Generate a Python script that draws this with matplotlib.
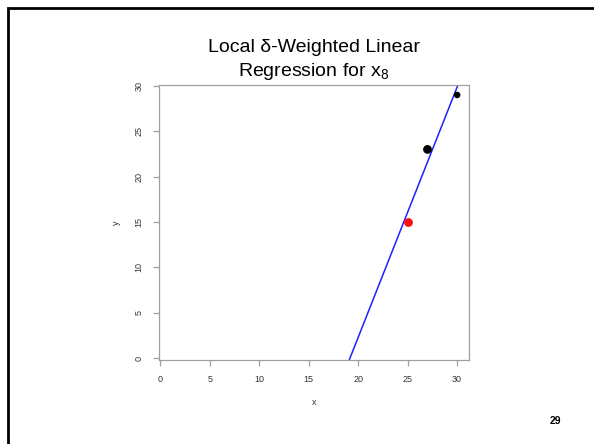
import matplotlib.pyplot as plt
import numpy as np
from matplotlib.lines import Line2D

plt.rcParams['font.family'] = ['Liberation Sans', 'DejaVu Sans']
plt.rcParams['mathtext.fontset'] = 'custom'
plt.rcParams['mathtext.rm'] = 'Liberation Sans'
plt.rcParams['mathtext.it'] = 'Liberation Sans'

# neighbour points (black) and query point (red)
nb_x = [27, 30]
nb_y = [23, 29]
nb_size = [40, 22]
query_x = [25]
query_y = [15]

# fitted local line
slope = 2.756
intercept = -52.8

ticks = [0, 5, 10, 15, 20, 25, 30]

fig = plt.figure(figsize=(5.94, 4.44), dpi=100)
ax = fig.add_axes([0.2677, 0.1892, 0.5219, 0.6194])

xs = np.array([0, 35])
ax.plot(xs, slope * xs + intercept, color='#2020ff', lw=1.1, zorder=2)
ax.scatter(nb_x, nb_y, s=nb_size, color='black', zorder=3, linewidths=0)
ax.scatter(query_x, query_y, s=40, color='#ff1010', zorder=3, linewidths=0)

ax.set_xlim(-0.15, 31.2)
ax.set_ylim(-0.2, 30.1)
ax.set_xticks(ticks)
ax.set_yticks(ticks)
for s in ax.spines.values():
    s.set_color('#a0a0a0')
    s.set_linewidth(0.9)
ax.tick_params(axis='both', colors='#a0a0a0', length=4, width=0.9,
               labelsize=6.5, labelcolor='#333333', pad=7)
plt.setp(ax.get_yticklabels(), rotation=90, va='center')
ax.set_xlabel('x', fontsize=6.5, color='#333333', labelpad=10)
ax.set_ylabel('y', fontsize=6.5, color='#333333', labelpad=10)

fig.text(0.5287, 1 - 48 / 444, 'Local \u03b4-Weighted Linear', ha='center', va='center',
         fontsize=14)
fig.text(0.5287, 1 - 71 / 444, 'Regression for x$_8$', ha='center', va='center',
         fontsize=14)

fig.text(555 / 594, 1 - 421 / 444, '29', ha='center', va='center', fontsize=7.5,
         fontweight='bold')

# slide border (left and top edges)
fig.add_artist(Line2D([8 / 594, 8 / 594, 1], [0, 1 - 8 / 444, 1 - 8 / 444],
                      transform=fig.transFigure, color='black', lw=2.0,
                      solid_joinstyle='miter'))

fig.savefig('out.png', dpi=100)
